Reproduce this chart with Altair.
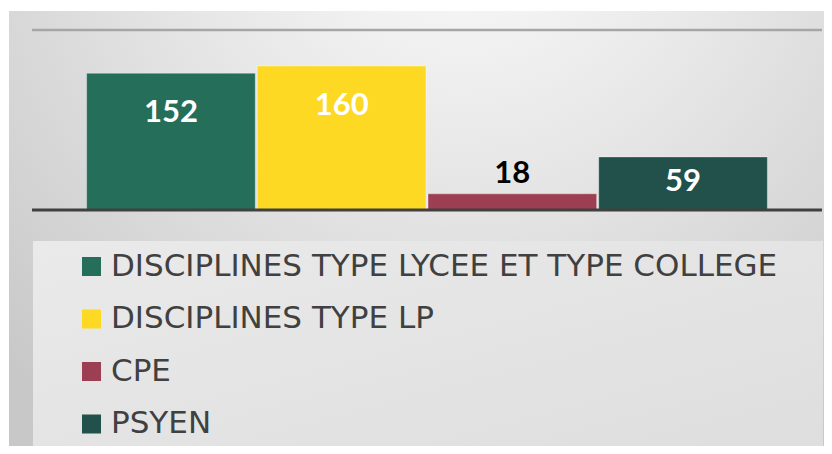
import altair as alt
import pandas as pd

categories = [
    "DISCIPLINES TYPE LYCEE ET TYPE COLLEGE",
    "DISCIPLINES TYPE LP",
    "CPE",
    "PSYEN",
]
values = [152, 160, 18, 59]
colors = ["#246e5a", "#fdd923", "#9d3f52", "#22504a"]
axis_top = [200]
axis_base = [0]

df = pd.DataFrame({"category": categories, "value": values})
one = pd.DataFrame({"k": [0]})

xscale = alt.Scale(domain=categories, paddingInner=0.012, paddingOuter=0.32)
yscale = alt.Scale(domain=[0, 200])

bg = alt.Chart(one).mark_rect(
    fill=alt.RadialGradient(
        gradient="radial",
        stops=[
            alt.GradientStop(color="#fdfdfd", offset=0),
            alt.GradientStop(color="#e6e6e6", offset=0.45),
            alt.GradientStop(color="#c8c8c8", offset=1),
        ],
        x1=0.55, y1=0.08, r1=0, x2=0.55, y2=0.08, r2=0.8,
    )
).encode(x=alt.value(-23), x2=alt.value(800), y=alt.value(-19), y2=alt.value(424))

legend_box = alt.Chart(one).mark_rect(
    fill=alt.LinearGradient(
        gradient="linear",
        stops=[
            alt.GradientStop(color="#eaeaea", offset=0),
            alt.GradientStop(color="#dedede", offset=1),
        ],
        x1=0, y1=0, x2=1, y2=1,
    )
).encode(x=alt.value(1), x2=alt.value(791), y=alt.value(211), y2=alt.value(416))

top_rule = alt.Chart(pd.DataFrame({"v": axis_top})).mark_rule(
    color="#a6a6a6", strokeWidth=2.5
).encode(y=alt.Y("v:Q", scale=yscale, axis=None))

bars = alt.Chart(df).mark_bar(stroke="#ffffff", strokeOpacity=0.35, strokeWidth=1).encode(
    x=alt.X("category:N", scale=xscale, axis=None, sort=categories),
    y=alt.Y("value:Q", scale=yscale, axis=None),
    color=alt.Color(
        "category:N",
        scale=alt.Scale(domain=categories, range=colors),
        sort=categories,
        legend=alt.Legend(
            title=None,
            orient="none",
            legendX=44,
            legendY=221,
            direction="vertical",
            symbolType="square",
            symbolSize=361,
            symbolStrokeWidth=0,
            labelFont="DejaVu Sans",
            labelFontSize=31,
            labelColor="#404040",
            labelLimit=900,
            labelOffset=4,
            rowPadding=20.5,
            padding=0,
        ),
    ),
)

baseline = alt.Chart(pd.DataFrame({"v": axis_base})).mark_rule(
    color="#404040", strokeWidth=3
).encode(y=alt.Y("v:Q", scale=yscale, axis=None))

base_text = alt.Chart(df).encode(
    x=alt.X("category:N", scale=xscale, axis=None, sort=categories),
    y=alt.Y("value:Q", scale=yscale, axis=None),
    text=alt.Text("value:Q"),
)
lab_big = base_text.transform_filter("datum.value > 100").mark_text(
    font="Lato", fontSize=31, fontWeight="bold", color="white", baseline="middle", dy=40
)
lab_mid = base_text.transform_filter("datum.value > 30 && datum.value <= 100").mark_text(
    font="Lato", fontSize=31, fontWeight="bold", color="white", baseline="middle", dy=25
)
lab_out = base_text.transform_filter("datum.value <= 30").mark_text(
    font="Lato", fontSize=31, fontWeight="bold", color="black", baseline="middle", dy=-20
)

chart = alt.layer(bg, legend_box, top_rule, bars, baseline, lab_big, lab_mid, lab_out).properties(
    width=790,
    height=180,
    autosize=alt.AutoSizeParams(type="none"),
    padding={"left": 24, "top": 22, "right": 2, "bottom": 236},
    background="white",
).configure_view(strokeWidth=0)

chart.save("out.html", embed_options={"renderer": "svg", "actions": False})
